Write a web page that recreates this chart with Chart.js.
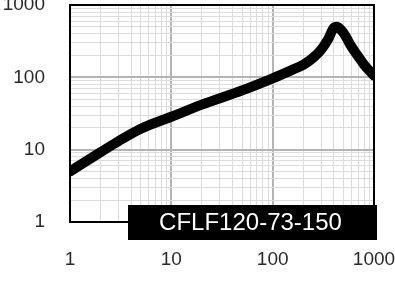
<!DOCTYPE html>
<html>
<head>
<meta charset="utf-8">
<script src="https://cdn.jsdelivr.net/npm/chart.js@4"></script>
<style>
  html, body { margin: 0; padding: 0; background: #fff; }
  #wrap { width: 395px; height: 283px; }
</style>
</head>
<body>
<div id="wrap"><canvas id="myChart" width="395" height="283"></canvas></div>
<script>
// frequency (x) and impedance (y)
const freq = [1, 2, 3, 5, 10, 20, 50, 100, 150, 200, 250, 300, 350, 400, 430, 500, 600, 700, 800, 1000];
const imp = [5.0, 9.2, 13.1, 19.5, 28.5, 42, 66, 97, 124, 149, 186, 240, 330, 480, 500, 410, 265, 194, 149, 106];

const xTickLabels = [1, 10, 100, 1000];
const yTickLabels = [1, 10, 100, 1000];
const partName = "CFLF120-73-150";

const fontFamily = "'Liberation Sans', Arial, sans-serif";

// minor ticks 1..9 inside each decade
const decadeTicks = (majors) => {
  const out = [];
  majors.forEach((m, i) => {
    if (i === majors.length - 1) {
      out.push({ value: m });
      return;
    }
    for (let k = 1; k <= 9; k++) out.push({ value: m * k });
  });
  return out;
};

const isMajor = (ctx) => ctx.tick && [1, 10, 100, 1000].includes(ctx.tick.value);
const gridColor = (ctx) => (isMajor(ctx) ? "#b4b4b4" : "#dcdcdc");
const gridWidth = (ctx) => (isMajor(ctx) ? 2 : 1);

// let the end labels hang over the edge like in the picture
const noLabelPadding = (axis) => {
  axis.paddingTop = 0;
  axis.paddingBottom = 0;
  axis.paddingLeft = 0;
  axis.paddingRight = 0;
};

// frame round the plot and the black name box
const framePlugin = {
  id: "frame",
  afterDatasetsDraw(chart) {
    const { ctx, chartArea: a } = chart;
    ctx.save();
    ctx.strokeStyle = "#000";
    ctx.lineWidth = 2;
    ctx.strokeRect(a.left, a.top, a.right - a.left, a.bottom - a.top);

    const bx = a.left + 58;
    const by = a.bottom - 17;
    const bw = a.right + 3 - bx;
    const bh = 35;
    ctx.fillStyle = "#000";
    ctx.fillRect(bx, by, bw, bh);
    ctx.fillStyle = "#fff";
    ctx.font = "24px " + fontFamily;
    ctx.textAlign = "center";
    ctx.textBaseline = "middle";
    ctx.fillText(partName, bx + bw / 2 - 2, by + bh / 2 + 1);
    ctx.restore();
  },
};

const ctx = document.getElementById("myChart").getContext("2d");
new Chart(ctx, {
  type: "line",
  data: {
    datasets: [
      {
        data: freq.map((f, i) => ({ x: f, y: imp[i] })),
        borderColor: "#000",
        borderWidth: 10,
        pointRadius: 0,
        cubicInterpolationMode: "monotone",
        borderCapStyle: "round",
        borderJoinStyle: "round",
        clip: 0,
      },
    ],
  },
  options: {
    responsive: false,
    animation: false,
    layout: { padding: { top: 5, right: 21, left: 0, bottom: 0 } },
    plugins: { legend: { display: false }, tooltip: { enabled: false } },
    scales: {
      x: {
        type: "logarithmic",
        min: 1,
        max: 1000,
        afterBuildTicks: (axis) => { axis.ticks = decadeTicks(xTickLabels); },
        afterFit: (axis) => { axis.height = 61; noLabelPadding(axis); },
        ticks: {
          autoSkip: false,
          maxRotation: 0,
          padding: 26,
          color: "#2a2a2a",
          font: { family: fontFamily, size: 19 },
          callback: (v) => (xTickLabels.includes(v) ? String(v) : ""),
        },
        grid: { color: gridColor, lineWidth: gridWidth, drawTicks: false },
        border: { color: "#000", width: 2 },
      },
      y: {
        type: "logarithmic",
        min: 1,
        max: 1000,
        afterBuildTicks: (axis) => { axis.ticks = decadeTicks(yTickLabels); },
        afterFit: (axis) => { axis.width = 70; noLabelPadding(axis); },
        ticks: {
          autoSkip: false,
          padding: 25,
          color: "#2a2a2a",
          font: { family: fontFamily, size: 19 },
          callback: (v) => (yTickLabels.includes(v) ? String(v) : ""),
        },
        grid: { color: gridColor, lineWidth: gridWidth, drawTicks: false },
        border: { color: "#000", width: 2 },
      },
    },
  },
  plugins: [framePlugin],
});
</script>
</body>
</html>
